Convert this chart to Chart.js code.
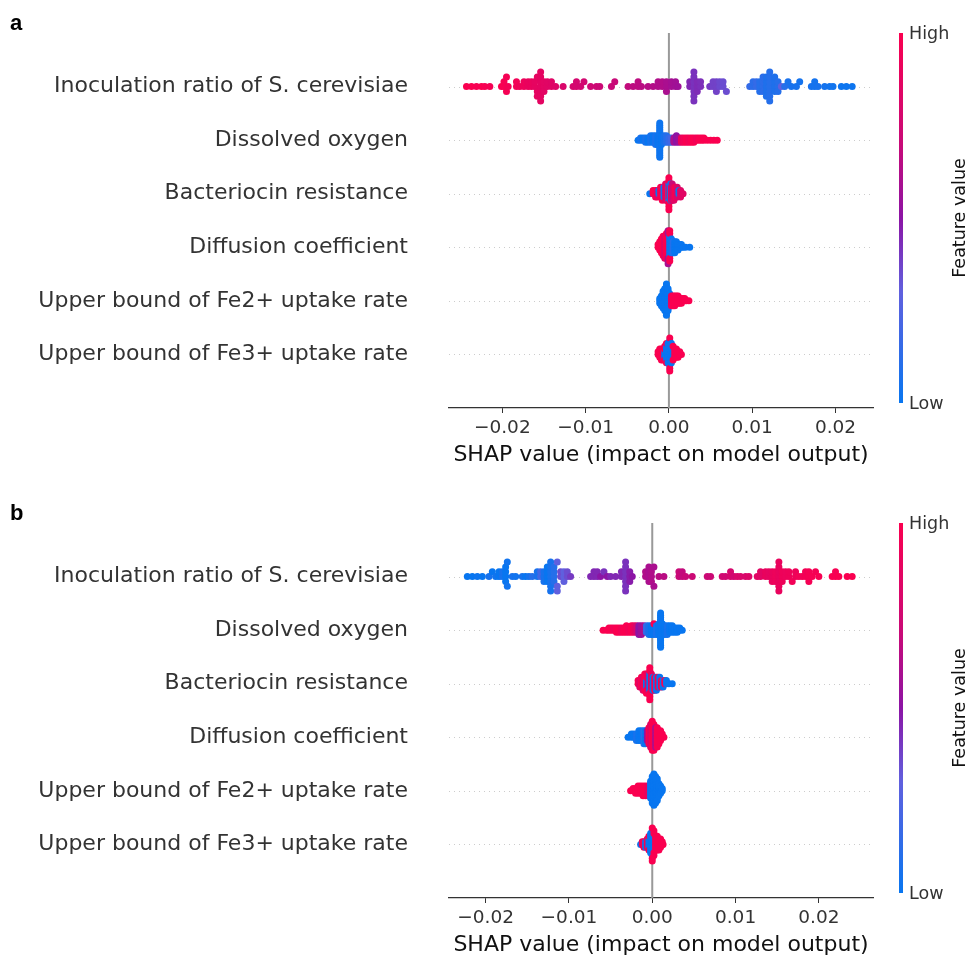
<!DOCTYPE html>
<html>
<head>
<meta charset="utf-8">
<script src="https://cdn.jsdelivr.net/npm/chart.js@4.4.1/dist/chart.umd.min.js"></script>
<style>
  html, body { margin: 0; padding: 0; background: #fff; overflow: hidden; }
  .panel { position: relative; width: 969px; height: 490px; overflow: hidden; }
  #wrapB { height: 465px; }
  canvas { display: block; }
</style>
</head>
<body>
<div class="panel" id="wrapA"><canvas id="shapA" width="969" height="490"></canvas></div>
<div class="panel" id="wrapB"><canvas id="shapB" width="969" height="490"></canvas></div>
<script>
// feature names, top to bottom
const features = [
  'Inoculation ratio of S. cerevisiae',
  'Dissolved oxygen',
  'Bacteriocin resistance',
  'Diffusion coefficient',
  'Upper bound of Fe2+ uptake rate',
  'Upper bound of Fe3+ uptake rate'
];
const xTicks = [-0.02, -0.01, 0, 0.01, 0.02];

// samples per feature: [shap value, feature value (0 low .. 1 high), how many samples]
// ---- panel a ----
const a_inoculation = [
  [-0.0243,1,1],[-0.0237,1,1],[-0.0231,.98,1],[-0.0225,1,1],[-0.0221,.98,1],[-0.0215,.97,1],
  [-0.0201,1,1],[-0.0198,.98,2],[-0.0195,.97,2],[-0.0193,.96,1],[-0.0183,.95,2],[-0.0179,.93,1],
  [-0.0174,.92,2],[-0.0169,.9,2],[-0.0165,.9,2],[-0.0161,.88,2],[-0.0158,.88,3],[-0.0154,.87,7],
  [-0.0150,.86,3],[-0.0146,.85,2],[-0.0141,.84,2],[-0.0136,.83,1],[-0.0127,.8,1],[-0.0115,.78,1],
  [-0.0111,.77,2],[-0.0106,.76,1],[-0.0102,.76,1],[-0.0094,.74,1],[-0.0087,.73,1],[-0.0083,.72,1],
  [-0.0069,.7,1],[-0.0065,.7,1],[-0.0049,.68,1],[-0.0043,.66,1],[-0.0037,.66,2],[-0.0033,.65,1],
  [-0.0025,.64,1],[-0.0019,.63,1],[-0.0013,.62,2],[-0.0008,.62,2],[-0.0003,.6,3],[0.0003,.58,2],
  [0.0008,.57,2],[0.0011,.56,1],
  [0.0025,.45,2],[0.0030,.42,7],[0.0034,.44,3],[0.0038,.43,2],
  [0.0049,.4,1],[0.0053,.38,2],[0.0057,.38,3],[0.0061,.36,2],[0.0065,.35,2],[0.0069,.35,1],
  [0.0097,.15,1],[0.0101,.12,2],[0.0105,.15,2],[0.0109,.1,3],[0.0113,.12,4],[0.0117,.08,5],
  [0.0121,.1,7],[0.0127,.08,4],[0.0131,.1,3],[0.0135,.3,1],[0.0139,.1,1],[0.0143,.06,1],
  [0.0147,.05,1],[0.0153,.05,1],[0.0157,.04,1],[0.0171,.05,1],[0.0175,.04,2],[0.0179,.05,1],
  [0.0187,.04,1],[0.0193,.03,1],[0.0197,.03,1],[0.0207,.02,1],[0.0213,.02,1],[0.0220,.02,1]
];
const a_oxygen = [
  [-0.0037,0,1],[-0.0034,.05,2],[-0.0031,0,2],[-0.0028,.05,3],[-0.0025,0,3],[-0.0022,.05,4],
  [-0.0019,0,4],[-0.0016,.05,5],[-0.0013,0,5],[-0.0011,.02,17],[-0.0009,0,5],[-0.0006,.05,4],
  [-0.0003,.1,4],[0.0000,.15,3],[0.0003,.2,3],
  [0.0006,.6,3],[0.0009,.5,4],[0.0012,.55,3],[0.0015,.9,3],[0.0018,.95,3],[0.0021,1,3],
  [0.0024,.95,3],[0.0027,1,3],[0.0030,1,3],[0.0033,.95,2],[0.0036,1,2],[0.0039,1,2],
  [0.0042,1,2],[0.0046,1,1],[0.0050,1,1],[0.0054,1,1],[0.0058,1,1]
];
const a_bacteriocin = [
  [-0.0023,0,1],[-0.0019,1,2],[-0.0016,1,3],[-0.0014,.9,3],[-0.0012,0,2],[-0.0010,1,4],
  [-0.0008,1,5],[-0.0006,0,4],[-0.0004,.85,6],[-0.0002,1,6],[0.0000,0,6],[0.0000,1,5],
  [0.0001,.85,4],[0.0002,0,6],[0.0003,1,5],[0.0004,.7,6],[0.0006,.85,5],[0.0008,1,4],
  [0.0010,.8,4],[0.0012,0,2],[0.0014,.85,3],[0.0017,.85,1]
];
const a_diffusion = [
  [-0.0013,1,2],[-0.0011,1,4],[-0.0009,1,6],[-0.0007,1,8],[-0.0005,.85,9],[-0.0003,1,10],
  [-0.0001,1,8],[-0.0001,.6,5],[0.0001,0,8],[0.0001,1,4],[0.0003,0,6],[0.0005,.1,5],
  [0.0007,0,5],[0.0009,0,4],[0.0011,0,3],[0.0013,0,2],[0.0015,0,2],[0.0017,0,1],
  [0.0020,0,1],[0.0025,0,1]
];
const a_fe2 = [
  [-0.0011,0,3],[-0.0009,0,5],[-0.0007,0,8],[-0.0005,0,10],[-0.0003,0,14],[-0.0001,0,10],
  [0.0001,0,6],[0.0003,.9,5],[0.0005,1,5],[0.0007,1,5],[0.0009,1,4],[0.0011,1,4],
  [0.0013,1,3],[0.0015,1,3],[0.0017,1,2],[0.0019,1,2],[0.0021,1,1],[0.0024,1,1]
];
const a_fe3 = [
  [-0.0013,1,2],[-0.0011,1,4],[-0.0009,1,5],[-0.0007,1,5],[-0.0005,0,3],[-0.0005,1,3],
  [-0.0003,0,6],[-0.0003,1,2],[-0.0001,0,8],[0.0001,0,10],[0.0001,1,3],[0.0003,0,8],
  [0.0005,0,4],[0.0005,1,2],[0.0007,1,4],[0.0009,1,4],[0.0011,1,3],[0.0013,1,2],[0.0015,1,1]
];

// ---- panel b ----
const b_inoculation = [
  [-0.0222,0,1],[-0.0216,0,1],[-0.0210,.02,1],[-0.0204,0,1],[-0.0196,.05,1],[-0.0192,0,1],
  [-0.0188,.03,1],[-0.0184,0,2],[-0.0180,.05,2],[-0.0176,0,4],[-0.0174,.03,2],[-0.0168,.05,1],
  [-0.0164,.03,1],[-0.0156,.05,1],[-0.0152,0,1],[-0.0148,.05,1],[-0.0144,.1,1],[-0.0138,.05,2],
  [-0.0134,.2,2],[-0.0130,.05,3],[-0.0126,0,4],[-0.0122,.05,7],[-0.0118,.1,4],[-0.0114,.3,3],
  [-0.0110,.35,2],[-0.0106,.3,3],[-0.0102,.35,2],[-0.0098,.4,1],
  [-0.0074,.45,1],[-0.0070,.45,2],[-0.0066,.45,2],[-0.0062,.5,1],[-0.0058,.42,1],[-0.0054,.5,1],
  [-0.0050,.45,1],[-0.0044,.45,1],[-0.0037,.45,2],[-0.0032,.42,7],[-0.0027,.48,3],[-0.0024,.5,1],
  [-0.0008,.62,2],[-0.0004,.6,4],[-0.0001,.62,3],[0.0002,.6,2],[0.0008,.65,1],[0.0014,.65,1],
  [0.0032,.7,2],[0.0036,.68,2],[0.0040,.7,1],[0.0048,.72,1],[0.0066,.72,1],[0.0070,.72,1],
  [0.0084,.75,1],[0.0088,.75,1],[0.0094,.78,2],[0.0098,.75,1],[0.0102,.8,1],[0.0106,.8,1],
  [0.0112,.8,1],[0.0116,.82,1],[0.0126,.85,1],[0.0130,.85,2],[0.0136,.9,2],[0.0140,.88,2],
  [0.0144,.9,3],[0.0148,.92,3],[0.0152,.9,7],[0.0156,.93,3],[0.0160,.92,2],[0.0164,.93,2],
  [0.0168,.95,1],[0.0172,.93,2],[0.0176,.95,1],[0.0180,.95,1],[0.0184,.96,2],[0.0188,.97,3],
  [0.0192,.98,1],[0.0196,.97,1],[0.0200,.98,1],[0.0216,1,1],[0.0220,.98,2],[0.0224,1,1],
  [0.0234,1,1],[0.0240,1,1]
];
const b_oxygen = [
  [-0.0059,1,1],[-0.0055,1,1],[-0.0052,1,2],[-0.0049,1,2],[-0.0046,.95,2],[-0.0043,1,3],
  [-0.0040,1,3],[-0.0037,.95,3],[-0.0034,1,3],[-0.0031,1,4],[-0.0028,.95,3],[-0.0025,1,4],
  [-0.0022,.9,4],[-0.0019,.8,4],[-0.0016,.5,5],[-0.0013,.55,5],[-0.0010,.6,4],[-0.0007,.15,4],
  [-0.0004,.05,5],[-0.0001,0,5],[0.0002,0,5],[0.0002,1,1],[0.0005,.05,5],[0.0008,0,6],
  [0.0010,0,17],[0.0012,0,6],[0.0015,0,5],[0.0018,.05,5],[0.0021,0,4],[0.0024,0,4],
  [0.0027,0,3],[0.0030,0,3],[0.0033,0,2],[0.0036,0,1]
];
const b_bacteriocin = [
  [-0.0017,1,2],[-0.0015,.85,3],[-0.0013,1,4],[-0.0011,.8,5],[-0.0009,1,6],[-0.0007,0,3],
  [-0.0007,1,4],[-0.0005,.85,6],[-0.0003,0,6],[-0.0003,1,5],[-0.0001,.9,6],[0.0001,0,5],
  [0.0003,1,5],[0.0005,0,5],[0.0007,1,4],[0.0009,0,4],[0.0011,1,3],[0.0013,0,3],
  [0.0015,1,2],[0.0017,0,2],[0.0020,0,1],[0.0024,0,1]
];
const b_diffusion = [
  [-0.0029,0,1],[-0.0025,0,2],[-0.0022,0,2],[-0.0019,.05,3],[-0.0016,0,4],[-0.0013,0,4],
  [-0.0010,.1,5],[-0.0008,0,5],[-0.0006,.5,4],[-0.0004,1,6],[-0.0002,.85,8],[0.0000,1,10],
  [0.0002,1,9],[0.0004,.6,7],[0.0006,1,7],[0.0008,1,5],[0.0010,1,4],[0.0012,1,2],[0.0014,1,1]
];
const b_fe2 = [
  [-0.0026,1,1],[-0.0023,1,2],[-0.0020,1,3],[-0.0017,1,4],[-0.0014,1,4],[-0.0011,1,5],
  [-0.0008,1,5],[-0.0005,.9,5],[-0.0002,0,8],[0.0000,0,12],[0.0002,0,14],[0.0004,0,12],
  [0.0006,0,10],[0.0008,0,6],[0.0010,0,4],[0.0012,0,2]
];
const b_fe3 = [
  [-0.0014,0,1],[-0.0012,.9,2],[-0.0010,1,3],[-0.0008,0,3],[-0.0006,1,4],[-0.0004,0,4],
  [-0.0004,1,2],[-0.0002,0,8],[0.0000,0,10],[0.0000,1,3],[0.0002,0,6],[0.0002,1,4],
  [0.0004,1,6],[0.0006,1,6],[0.0008,1,5],[0.0010,1,4],[0.0012,1,2],[0.0013,1,1]
];

const panelA = [a_inoculation, a_oxygen, a_bacteriocin, a_diffusion, a_fe2, a_fe3];
const panelB = [b_inoculation, b_oxygen, b_bacteriocin, b_diffusion, b_fe2, b_fe3];

// shap-like red/blue colour map
const cmapStops = [[0,[8,118,240]],[0.3,[96,96,222]],[0.5,[140,20,165]],[0.7,[200,10,120]],[1,[250,0,80]]];
function cmap(t) {
  for (let k = 1; k < cmapStops.length; k++) {
    if (t <= cmapStops[k][0]) {
      const [t0, c0] = cmapStops[k - 1], [t1, c1] = cmapStops[k];
      const u = (t - t0) / (t1 - t0);
      return 'rgb(' + c0.map((c, j) => Math.round(c + (c1[j] - c) * u)).join(',') + ')';
    }
  }
  return 'rgb(250,0,80)';
}

function expand(entries) {
  const out = [];
  entries.forEach(([s, f, n]) => { for (let k = 0; k < n; k++) out.push({ s, f }); });
  return out;
}

// beeswarm offsets, same binning as shap's summary plot
function swarm(vals) {
  const lo = Math.min(...vals), hi = Math.max(...vals);
  const quant = vals.map(v => Math.round(100 * (v - lo) / (hi - lo + 1e-8)));
  const inds = vals.map((_, i) => i).sort((i, j) => quant[i] - quant[j] || i - j);
  const ys = new Array(vals.length).fill(0);
  let layer = 0, last = -1;
  inds.forEach(i => {
    if (quant[i] !== last) layer = 0;
    ys[i] = Math.ceil(layer / 2) * ((layer % 2) * 2 - 1);
    layer++;
    last = quant[i];
  });
  const m = Math.max(...ys.map(y => y + 1));
  return ys.map(y => y * 0.36 / m);
}

const font = 'DejaVu Sans';

const shapExtras = {
  id: 'shapExtras',
  beforeDatasetsDraw(chart) {
    const { ctx, chartArea: ca, scales: { x, y } } = chart;
    ctx.save();
    ctx.strokeStyle = '#cccccc';
    ctx.lineWidth = 1;
    ctx.setLineDash([1, 4]);
    features.forEach((_, i) => {
      const py = Math.round(y.getPixelForValue(i)) + 0.5;
      ctx.beginPath(); ctx.moveTo(ca.left, py); ctx.lineTo(ca.right, py); ctx.stroke();
    });
    ctx.setLineDash([]);
    ctx.strokeStyle = '#999999';
    ctx.lineWidth = 2;
    const px = x.getPixelForValue(0);
    ctx.beginPath(); ctx.moveTo(px, ca.top); ctx.lineTo(px, ca.bottom); ctx.stroke();
    ctx.restore();
  },
  afterDraw(chart, args, opts) {
    const { ctx, chartArea: ca } = chart;
    ctx.save();
    ctx.fillStyle = '#000';
    ctx.font = 'bold 22px "Liberation Sans", Arial, sans-serif';
    ctx.textBaseline = 'alphabetic';
    ctx.textAlign = 'left';
    ctx.fillText(opts.letter, 10, 30);

    // colour bar
    const top = ca.top, bot = ca.bottom - 5;
    const g = ctx.createLinearGradient(0, bot, 0, top);
    for (let k = 0; k <= 10; k++) g.addColorStop(k / 10, cmap(k / 10));
    ctx.fillStyle = g;
    ctx.fillRect(899, top, 4, bot - top);

    ctx.fillStyle = '#333333';
    ctx.font = '17.5px "' + font + '"';
    ctx.textBaseline = 'middle';
    ctx.fillText('High', 909, top + 1);
    ctx.fillText('Low', 909, bot + 1);
    ctx.translate(960, (top + bot) / 2);
    ctx.rotate(-Math.PI / 2);
    ctx.textAlign = 'center';
    ctx.fillStyle = '#111111';
    ctx.fillText('Feature value', 0, 0);
    ctx.restore();
  }
};

function buildChart(id, letter, rows, xmin, xmax) {
  const datasets = rows.map((entries, r) => {
    const pts = expand(entries);
    const offs = swarm(pts.map(p => p.s));
    return {
      label: features[r],
      data: pts.map((p, i) => ({ x: p.s, y: r - offs[i] })),
      pointBackgroundColor: pts.map(p => cmap(p.f)),
      pointBorderWidth: 0,
      pointRadius: 3.5,
      pointHoverRadius: 3.5
    };
  });

  return new Chart(document.getElementById(id), {
    type: 'scatter',
    data: { datasets },
    plugins: [shapExtras],
    options: {
      responsive: false,
      animation: false,
      events: [],
      layout: { padding: { top: 33, right: 96, bottom: 0, left: 0 } },
      plugins: {
        legend: { display: false },
        tooltip: { enabled: false },
        shapExtras: { letter }
      },
      scales: {
        x: {
          type: 'linear',
          min: xmin,
          max: xmax,
          afterBuildTicks: s => { s.ticks = xTicks.map(v => ({ value: v })); },
          afterFit: s => { s.height = 82; },
          ticks: {
            autoSkip: false,
            maxRotation: 0,
            padding: 4,
            color: '#333333',
            font: { family: font, size: 18.5 },
            callback: v => (v < 0 ? '\u2212' : '') + Math.abs(v).toFixed(2)
          },
          grid: { drawOnChartArea: false, drawTicks: true, tickLength: 5, tickColor: '#333333', tickWidth: 1 },
          border: { display: true, color: '#333333', width: 1.2 },
          title: {
            display: true,
            text: 'SHAP value (impact on model output)',
            color: '#111111',
            font: { family: font, size: 22 },
            padding: { top: 0, bottom: 22 }
          }
        },
        y: {
          type: 'linear',
          min: -1,
          max: 6,
          reverse: true,
          afterBuildTicks: s => { s.ticks = features.map((_, i) => ({ value: i })); },
          afterFit: s => { s.width = 449; s.paddingTop = 0; s.paddingBottom = 0; },
          ticks: {
            autoSkip: false,
            padding: 41,
            color: '#333333',
            font: { family: font, size: 22 },
            callback: v => features[v]
          },
          grid: { display: false, drawTicks: false, tickLength: 0 },
          border: { display: false }
        }
      }
    }
  });
}

buildChart('shapA', 'a', panelA, -0.0264, 0.0245);
buildChart('shapB', 'b', panelB, -0.0244, 0.0265);
</script>
</body>
</html>
